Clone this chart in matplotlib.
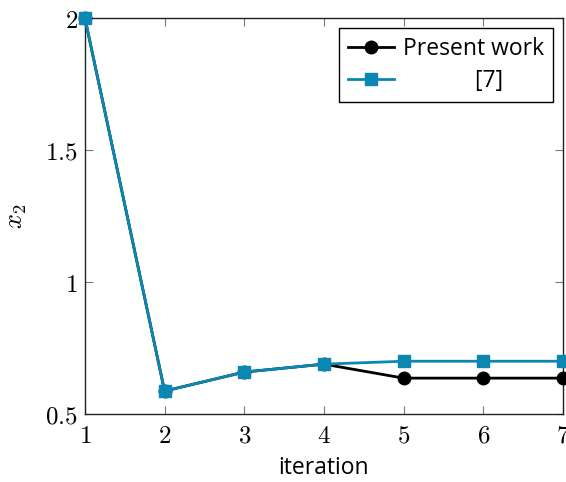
import matplotlib
matplotlib.use("Agg")
import matplotlib.pyplot as plt

iterations = [1, 2, 3, 4, 5, 6, 7]
present_work = [2.0, 0.587, 0.659, 0.689, 0.636, 0.636, 0.636]
ref7 = [2.0, 0.587, 0.659, 0.689, 0.700, 0.700, 0.700]
xticks = [1, 2, 3, 4, 5, 6, 7]
yticks = [0.5, 1.0, 1.5, 2.0]
yticklabels = ["0.5", "1", "1.5", "2"]

plt.rcParams['mathtext.fontset'] = 'cm'
plt.rcParams['font.family'] = ['Open Sans', 'DejaVu Sans']

fig = plt.figure(figsize=(5.66, 4.82), dpi=100)
ax = fig.add_axes([0.150, 0.141, 0.8447, 0.8216])

teal = '#0a87b2'
ax.plot(iterations, present_work, color='black', lw=2, marker='o', ms=9,
        label='Present work', clip_on=False, zorder=3)
ax.plot(iterations, ref7, color=teal, lw=2, marker='s', ms=9,
        label='            [7]', clip_on=False, zorder=4)

ax.set_xlim(1, 7)
ax.set_ylim(0.5, 2)
ax.set_xticks(xticks)
ax.set_xticklabels([r'$%d$' % v for v in xticks], fontsize=18)
ax.set_yticks(yticks)
ax.set_yticklabels([r'$%s$' % s for s in yticklabels], fontsize=18)
ax.tick_params(axis='x', pad=7)
ax.tick_params(axis='y', pad=5)
ax.tick_params(direction='in', length=6, color='#777777', top=True, right=True)
for s in ax.spines.values():
    s.set_linewidth(1.0)
    s.set_color('#222222')

ax.set_xlabel('iteration', fontsize=16.5, labelpad=5)
ax.set_ylabel(r'$x_2$', fontsize=19, labelpad=12)

leg = ax.legend(loc='upper right', bbox_to_anchor=(0.98, 0.975), fontsize=16.5,
                frameon=True, fancybox=False, edgecolor='black', framealpha=1,
                handlelength=2.0, borderpad=0.4, labelspacing=0.35, handletextpad=0.4,
                borderaxespad=0)
leg.get_frame().set_linewidth(1.0)

fig.savefig('out.png', dpi=100)
